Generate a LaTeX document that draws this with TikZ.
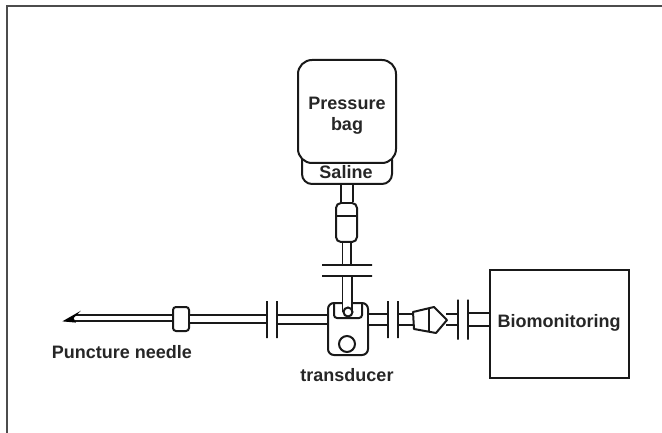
\documentclass[tikz,border=0pt]{standalone}
\usepackage{fontspec}
\setmainfont{Liberation Sans}
\tikzset{
	part/.style={draw, line width=2pt, fill=white, inner sep=0pt, outer sep=0pt, draw=black!90},
	plate/.style={part, minimum width=0pt, minimum height=#1},
	flat plate/.style={part, minimum height=0pt, minimum width=#1},
	tube/.style={line width=1.7pt, draw=black!90, double=white, double distance=#1, shorten <=1pt, shorten >=1pt},
	thin line/.style={line width=2pt, draw=black!90, line join=round},
	name text/.style={inner sep=0pt, font=\fontsize{18}{21}\selectfont\bfseries, text=black!85, align=center}
}
\begin{document}
\begin{tikzpicture}[x=1pt, y=-1pt]
	\useasboundingbox (0,0) rectangle (662,433);
	\draw[line width=1.5pt, draw=black!70] (7,433) -- (7,6) -- (662,6);

	\coordinate (tip) at (75,318);
	\node[part, minimum width=16, minimum height=24, rounded corners=3] (hub) at (181,319) {};
	\node[plate=37] (p1) at (267,319.5) {};
	\node[plate=37] (p2) at (277,319.5) {};
	\node[part, minimum width=40, minimum height=52, rounded corners=6] (trans) at (348,329) {};
	\node[plate=37] (p3) at (388,319.5) {};
	\node[plate=37] (p4) at (398,319.5) {};
	\coordinate (cone1) at (414,319.5);
	\coordinate (cone2) at (445,319.5);
	\node[plate=40] (p5) at (458,319.5) {};
	\node[plate=40] (p6) at (468,319.5) {};
	\node[part, minimum width=139, minimum height=108] (bio) at (559.5,324) {};
	\node[name text, anchor=base] (biotext) at (559,327) {Biomonitoring};

	\node[part, minimum width=90, minimum height=34, rounded corners=10] (saline) at (347,167) {};
	\node[part, minimum width=98, minimum height=103, rounded corners=14] (bag) at (347,111.5) {};
	\node[name text] (bagtext) at (347,115.5) {Pressure\\bag};
	\node[name text, anchor=base] (salinetext) at (346,179) {Saline};
	\node[part, minimum width=21, minimum height=39, rounded corners=5] (chamber) at (346.5,222.5) {};
	\node[flat plate=50] (p7) at (347,265) {};
	\node[flat plate=50] (p8) at (347,276) {};
	\coordinate (portc) at (348,312);

	\foreach \from/\to/\gap in {hub.east/p1/6.3,p2/trans.west/7.3,p3/trans.east/9.3,p4/cone1/9.3,cone2/p5/9.3,p6/bio.west/11.3}
		\draw[tube=\gap pt] (\from) -- (\from -| \to);
	\draw[tube=4pt, shorten <=0pt] (tip) -- (tip -| hub.west);
	\foreach \from/\to/\gap in {saline.south/chamber.north/10.3,chamber.south/p7/6.6}
		\draw[tube=\gap pt] (\from) -- (\from |- \to);
	\draw[tube=7.6pt, shorten >=0pt] (p8) -- (p8 |- portc);

	\node[part, circle, minimum size=9, fill=none] (port) at (portc) {};
	\draw[thin line, rounded corners=3] (334,303) -- (334,318) -- (362,318) -- (362,303);
	\node[part, circle, minimum size=16] (flush) at (347,344) {};

	\draw[thin line, fill=white] (413,312) -- (434,307) -- (447,320) -- (436,333) -- (414,329) -- cycle;
	\draw[thin line] (429,308) -- (429,332);
	\draw[thin line] (chamber.west |- 0,216) -- (chamber.east |- 0,216);
	\draw[line width=1pt, draw=black, fill=black] (78,313) -- (64,321) -- (75,322) -- (73,318) -- cycle;

	\node[name text, anchor=base] (needletext) at (122,358) {Puncture needle};
	\node[name text, anchor=base] (transtext) at (347,381) {transducer};
\end{tikzpicture}
\end{document}
